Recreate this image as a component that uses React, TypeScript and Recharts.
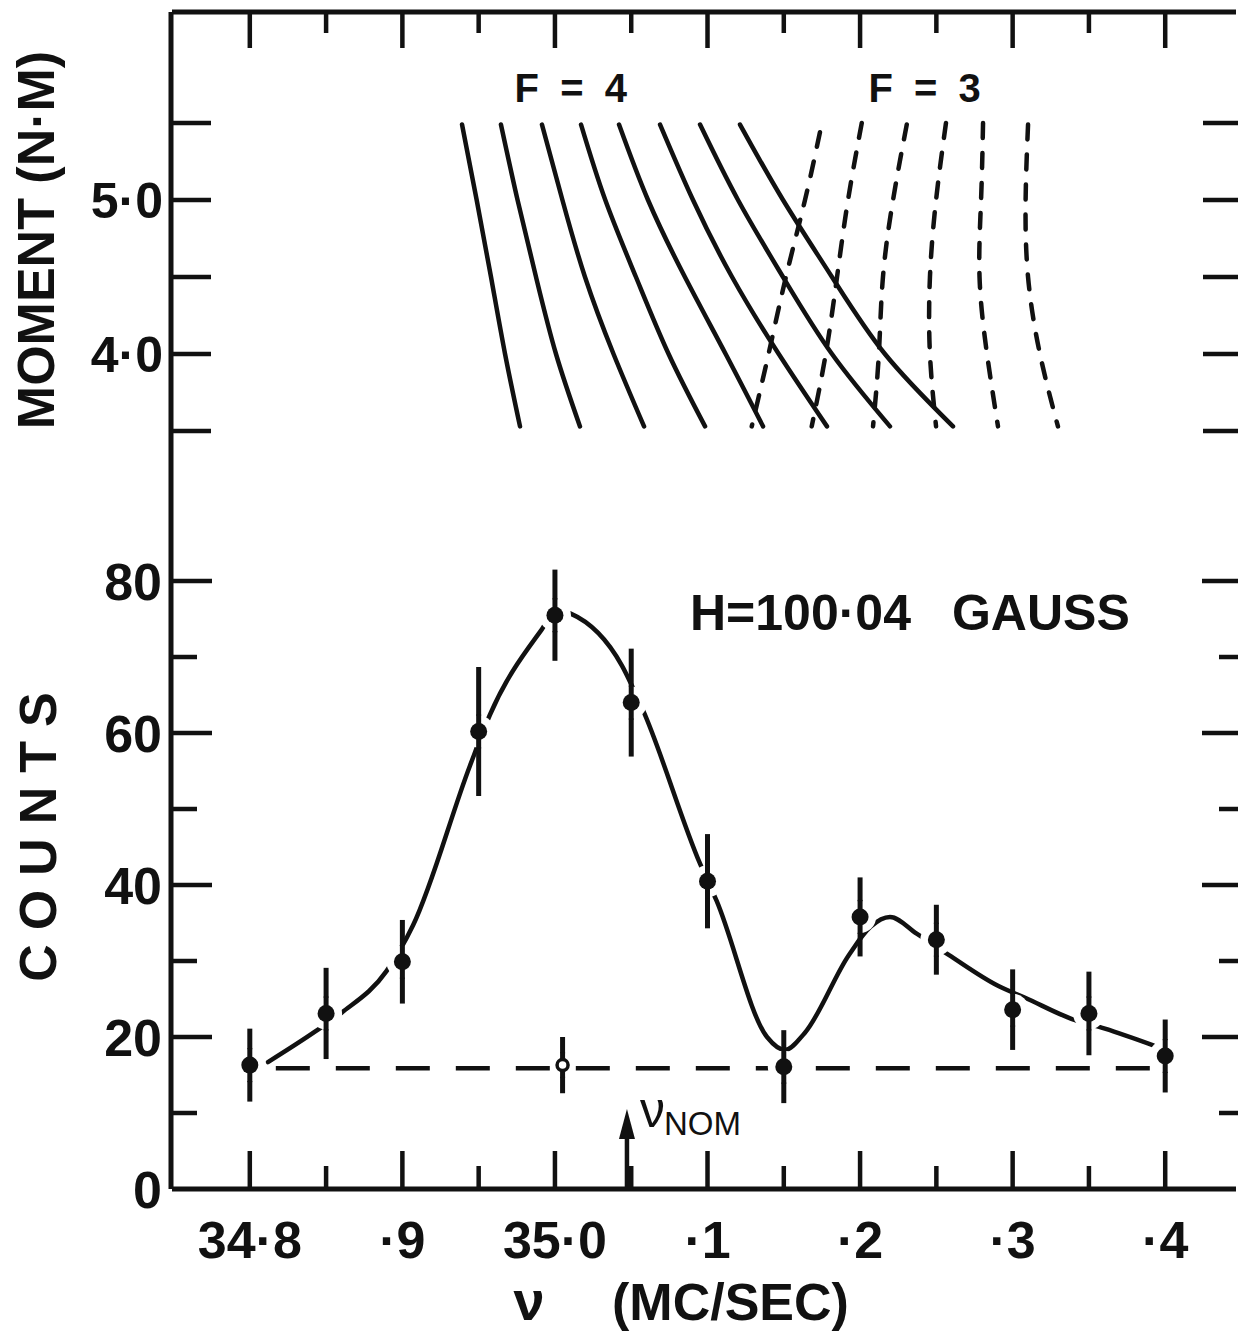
import React from "react";
import { ComposedChart, Line, Scatter, ErrorBar, XAxis, YAxis, ReferenceDot } from "recharts";

// frequency axis (MC/SEC)
const nuTicks = [34.8, 34.85, 34.9, 34.95, 35.0, 35.05, 35.1, 35.15, 35.2, 35.25, 35.3, 35.35, 35.4];
const nuLabels = ["34·8", "", "·9", "", "35·0", "", "·1", "", "·2", "", "·3", "", "·4"];

const countTicks = [0, 10, 20, 30, 40, 50, 60, 70, 80];
const countLabels = ["0", "", "20", "", "40", "", "60", "", "80"];

const momentTicks = [3.5, 4.0, 4.5, 5.0, 5.5];
const momentLabels = ["", "4·0", "", "5·0", ""];

// measured counts with errors
const nu = [34.8, 34.85, 34.9, 34.95, 35.0, 35.05, 35.1, 35.15, 35.2, 35.25, 35.3, 35.35, 35.4];
const counts = [16.3, 23.1, 29.9, 60.2, 75.5, 64.0, 40.5, 16.1, 35.8, 32.8, 23.6, 23.1, 17.5];
const countErr = [4.8, 6.0, 5.5, 8.5, 6.0, 7.1, 6.2, 4.8, 5.2, 4.6, 5.3, 5.5, 4.8];

// off-resonance check point
const offNu = [35.005];
const offCounts = [16.3];
const offErr = [3.7];

// background level
const baseNu = [34.8, 35.4];
const baseCount = 15.9;

// hand drawn fit curve
const fitNu = [34.8119, 34.8427, 34.8602, 34.8897, 34.907, 34.9443, 34.9574, 34.9913, 35.0012, 35.0103,
  35.0438, 35.0577, 35.0951, 35.106, 35.139, 35.1508, 35.1636, 35.1927, 35.2068, 35.2196, 35.2371,
  35.2581, 35.2907, 35.3078, 35.3385, 35.3605, 35.3922];
const fitCount = [16.7, 20.7, 23.2, 28.7, 34.7, 55.7, 62.4, 73.6, 76.2, 75.7, 68.9, 63.0, 42.8, 37.9,
  20.0, 18.3, 20.5, 30.8, 34.5, 35.8, 33.6, 30.8, 26.7, 25.2, 22.4, 21.1, 18.9];

// moment curves: frequency read at each moment level
const momentRows = [5.49, 5.0, 4.5, 4.0, 3.53];
const f4Nu = [
  [34.9391, 34.9487, 34.9581, 34.9673, 34.9771],
  [34.9646, 34.9755, 34.9876, 35.0007, 35.0164],
  [34.9915, 35.0049, 35.0197, 35.0384, 35.0584],
  [35.0171, 35.033, 35.0531, 35.0745, 35.0984],
  [35.042, 35.061, 35.0852, 35.1119, 35.1364],
  [35.0689, 35.0905, 35.1161, 35.1467, 35.1783],
  [35.0951, 35.12, 35.1495, 35.1816, 35.2196],
  [35.1213, 35.1495, 35.1816, 35.2163, 35.2609],
];
const f3TopMoment = [5.44, 5.5, 5.49, 5.5, 5.5, 5.49];
const f3Nu = [
  [35.1737, 35.1639, 35.1514, 35.14, 35.129],
  [35.2011, 35.1921, 35.1849, 35.1775, 35.1683],
  [35.2306, 35.2216, 35.215, 35.2123, 35.2085],
  [35.2563, 35.2498, 35.2458, 35.2458, 35.2498],
  [35.2806, 35.2793, 35.2783, 35.2832, 35.2904],
  [35.3101, 35.3085, 35.3101, 35.3179, 35.3297],
];

const nuNom = 35.0472;

const INK = "#111";
const FONT = "'Liberation Sans', Arial, sans-serif";
const W = 1238;
const H = 1333;
const PLOT_TOP = 12;
const X_DOMAIN: [number, number] = [34.749, 35.4464];
const COUNT_DOMAIN: [number, number] = [0, 154.87];
const MOMENT_DOMAIN: [number, number] = [-1.4221, 6.2208];

const pointData = nu.map((x, i) => ({ x, y: counts[i], err: countErr[i] }));
const offData = offNu.map((x, i) => ({ x, y: offCounts[i], err: offErr[i] }));
const fitData = fitNu.map((x, i) => ({ x, y: fitCount[i] }));
const baseData = baseNu.map((x) => ({ x, y: baseCount }));
const f4Data = f4Nu.map((row) => row.map((x, i) => ({ x, m: momentRows[i] })));
const f3Data = f3Nu.map((row, k) => row.map((x, i) => ({ x, m: i === 0 ? f3TopMoment[k] : momentRows[i] })));

const idx = (arr: number[], v: number) => arr.findIndex((t) => Math.abs(t - v) < 1e-6);

const textStyle = { fontFamily: FONT, fontWeight: 700, fill: INK } as const;

// ticks point inward on both the bottom and the top frame
const FreqTick = ({ x, y, payload }: any) => {
  const label = nuLabels[idx(nuTicks, payload.value)] || "";
  return (
    <g>
      <line x1={x} x2={x} y1={y} y2={y - (label ? 38 : 23)} stroke={INK} strokeWidth={4.5} />
      <line x1={x} x2={x} y1={PLOT_TOP} y2={PLOT_TOP + (label ? 36 : 21)} stroke={INK} strokeWidth={4.5} />
      {label && (
        <text x={x} y={y + 69} textAnchor="middle" fontSize={52} {...textStyle}>
          {label}
        </text>
      )}
    </g>
  );
};

const LeftCountTick = ({ x, y, payload }: any) => {
  const label = countLabels[idx(countTicks, payload.value)] || "";
  return (
    <g>
      {payload.value !== 0 && (
        <line x1={x} x2={x + (label ? 40 : 25)} y1={y} y2={y} stroke={INK} strokeWidth={4.5} />
      )}
      {label && (
        <text x={x - 10} y={y + 19} textAnchor="end" fontSize={52} {...textStyle}>
          {label}
        </text>
      )}
    </g>
  );
};

const LeftMomentTick = ({ x, y, payload }: any) => {
  const label = momentLabels[idx(momentTicks, payload.value)] || "";
  return (
    <g>
      <line x1={x} x2={x + 40} y1={y} y2={y} stroke={INK} strokeWidth={4.5} />
      {label && (
        <text x={x - 8} y={y + 18} textAnchor="end" fontSize={50} {...textStyle}>
          {label}
        </text>
      )}
    </g>
  );
};

// right side ticks reach the page edge
const RightCountTick = ({ x, y, payload }: any) => {
  if (payload.value === 0) return <g />;
  const major = countLabels[idx(countTicks, payload.value)] !== "";
  return <line x1={x + 3} x2={x - (major ? 34 : 17)} y1={y} y2={y} stroke={INK} strokeWidth={4.5} />;
};

const RightMomentTick = ({ x, y }: any) => (
  <line x1={x + 3} x2={x - 34} y1={y} y2={y} stroke={INK} strokeWidth={4.5} />
);

// white ring breaks the fit curve around each point, error bar is redrawn through it
const Dot = ({ cx, cy }: any) => (
  <g>
    <circle cx={cx} cy={cy} r={16} fill="#fff" />
    <line x1={cx} x2={cx} y1={cy - 17} y2={cy + 17} stroke={INK} strokeWidth={5} />
    <circle cx={cx} cy={cy} r={8.5} fill={INK} />
  </g>
);
const OpenDot = ({ cx, cy }: any) => (
  <g>
    <circle cx={cx} cy={cy} r={12} fill="#fff" />
    <line x1={cx} x2={cx} y1={cy - 13} y2={cy + 13} stroke={INK} strokeWidth={5} />
    <circle cx={cx} cy={cy} r={5.5} fill="#fff" stroke={INK} strokeWidth={3.5} />
  </g>
);

const NomArrow = ({ cx, cy }: any) => (
  <g>
    <line x1={cx} x2={cx} y1={cy} y2={cy - 58} stroke={INK} strokeWidth={4.5} />
    <path d={`M${cx},${cy - 80} L${cx - 8},${cy - 50} L${cx + 8},${cy - 50} Z`} fill={INK} />
    <text x={cx + 13} y={cy - 62} fontSize={50} fontFamily={FONT} fill={INK}>
      ν
    </text>
    <text x={cx + 37} y={cy - 54} fontSize={33} fontFamily={FONT} fill={INK}>
      NOM
    </text>
  </g>
);

const Caption = (text: string) => ({ cx, cy }: any) => (
  <text x={cx} y={cy} textAnchor="middle" fontSize={40} letterSpacing={5} {...textStyle}>
    {text}
  </text>
);

const FieldNote = ({ cx, cy }: any) => (
  <text x={cx} y={cy} fontSize={50} {...textStyle}>
    <tspan>H=100·04</tspan>
    <tspan x={cx + 262}>GAUSS</tspan>
  </text>
);

export default function App() {
  return (
    <div style={{ position: "absolute", left: 0, top: 0, width: W, height: H, background: "#fff", overflow: "hidden" }}>
      <ComposedChart width={W} height={H} margin={{ top: PLOT_TOP - 1, right: 0, bottom: 143, left: 170 }}>
        <XAxis
          xAxisId={0}
          dataKey="x"
          type="number"
          domain={X_DOMAIN}
          allowDataOverflow
          ticks={nuTicks}
          interval={0}
          height={1}
          tickSize={0}
          tickMargin={0}
          tickLine={false}
          axisLine={{ stroke: INK, strokeWidth: 5 }}
          tick={<FreqTick />}
        />
        <XAxis
          xAxisId="top"
          orientation="top"
          type="number"
          domain={X_DOMAIN}
          allowDataOverflow
          ticks={nuTicks}
          interval={0}
          height={1}
          tickLine={false}
          axisLine={{ stroke: INK, strokeWidth: 5 }}
          tick={false}
        />
        <YAxis
          yAxisId="moment"
          type="number"
          domain={MOMENT_DOMAIN}
          allowDataOverflow
          ticks={momentTicks}
          interval={0}
          width={1}
          tickSize={0}
          tickMargin={0}
          tickLine={false}
          axisLine={{ stroke: INK, strokeWidth: 5 }}
          tick={<LeftMomentTick />}
        />
        <YAxis
          yAxisId="counts"
          type="number"
          domain={COUNT_DOMAIN}
          allowDataOverflow
          ticks={countTicks}
          interval={0}
          width={1}
          tickSize={0}
          tickMargin={0}
          tickLine={false}
          axisLine={false}
          tick={<LeftCountTick />}
        />
        <YAxis
          yAxisId="countsR"
          orientation="right"
          type="number"
          domain={COUNT_DOMAIN}
          allowDataOverflow
          ticks={countTicks}
          interval={0}
          width={1}
          tickSize={0}
          tickMargin={0}
          tickLine={false}
          axisLine={false}
          tick={<RightCountTick />}
        />
        <YAxis
          yAxisId="momentR"
          orientation="right"
          type="number"
          domain={MOMENT_DOMAIN}
          allowDataOverflow
          ticks={momentTicks}
          interval={0}
          width={1}
          tickSize={0}
          tickMargin={0}
          tickLine={false}
          axisLine={false}
          tick={<RightMomentTick />}
        />

        {f4Data.map((d, i) => (
          <Line
            key={`f4-${i}`}
            data={d}
            dataKey="m"
            yAxisId="moment"
            type="natural"
            stroke={INK}
            strokeWidth={4.5}
            strokeLinecap="round"
            dot={false}
            activeDot={false}
            isAnimationActive={false}
          />
        ))}
        {f3Data.map((d, i) => (
          <Line
            key={`f3-${i}`}
            data={d}
            dataKey="m"
            yAxisId="moment"
            type="natural"
            stroke={INK}
            strokeWidth={4.5}
            strokeDasharray="15 15"
            strokeLinecap="round"
            dot={false}
            activeDot={false}
            isAnimationActive={false}
          />
        ))}

        <Line
          data={fitData}
          dataKey="y"
          yAxisId="counts"
          type="monotone"
          stroke={INK}
          strokeWidth={4.5}
          strokeLinecap="round"
          dot={false}
          activeDot={false}
          isAnimationActive={false}
        />
        <Line
          data={baseData}
          dataKey="y"
          yAxisId="counts"
          type="linear"
          stroke={INK}
          strokeWidth={4.5}
          strokeDasharray="34 26"
          strokeDashoffset={34}
          dot={false}
          activeDot={false}
          isAnimationActive={false}
        />

        <Scatter data={pointData} dataKey="y" yAxisId="counts" shape={<Dot />} isAnimationActive={false}>
          <ErrorBar dataKey="err" direction="y" width={0} stroke={INK} strokeWidth={5} isAnimationActive={false} />
        </Scatter>
        <Scatter data={offData} dataKey="y" yAxisId="counts" shape={<OpenDot />} isAnimationActive={false}>
          <ErrorBar dataKey="err" direction="y" width={0} stroke={INK} strokeWidth={5} isAnimationActive={false} />
        </Scatter>

        <ReferenceDot x={nuNom} y={0} yAxisId="counts" ifOverflow="visible" shape={<NomArrow />} />
        <ReferenceDot x={35.012} y={5.636} yAxisId="moment" ifOverflow="visible" shape={Caption("F = 4")} />
        <ReferenceDot x={35.2439} y={5.636} yAxisId="moment" ifOverflow="visible" shape={Caption("F = 3")} />
        <ReferenceDot x={35.0885} y={73.55} yAxisId="counts" ifOverflow="visible" shape={<FieldNote />} />
      </ComposedChart>

      <svg width={W} height={H} style={{ position: "absolute", left: 0, top: 0, pointerEvents: "none" }}>
        <text transform="translate(54,240) rotate(-90)" textAnchor="middle" fontSize={52} {...textStyle}>
          MOMENT (N·M)
        </text>
        <text transform="translate(56,830) rotate(-90)" textAnchor="middle" fontSize={52} letterSpacing={14} {...textStyle}>
          COUNTS
        </text>
        <text x={529} y={1320} textAnchor="middle" fontSize={56} {...textStyle}>
          ν
        </text>
        <text x={612} y={1320} fontSize={52} {...textStyle}>
          (MC/SEC)
        </text>
      </svg>
    </div>
  );
}
